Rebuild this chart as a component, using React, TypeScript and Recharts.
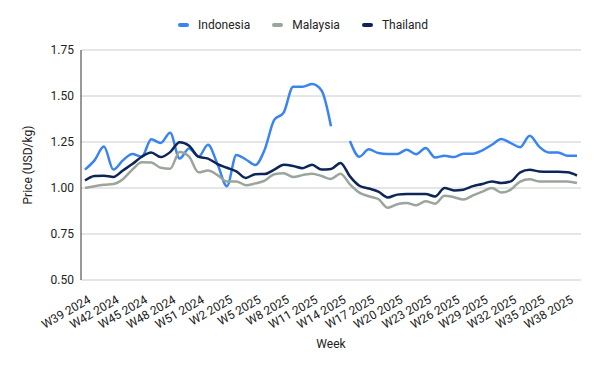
import React from 'react';
import { LineChart, Line, XAxis, YAxis, CartesianGrid } from 'recharts';

const weeks: string[] = [
  'W39 2024', 'W40 2024', 'W41 2024', 'W42 2024', 'W43 2024', 'W44 2024', 'W45 2024', 'W46 2024',
  'W47 2024', 'W48 2024', 'W49 2024', 'W50 2024', 'W51 2024', 'W52 2024',
  'W1 2025', 'W2 2025', 'W3 2025', 'W4 2025', 'W5 2025', 'W6 2025', 'W7 2025', 'W8 2025', 'W9 2025',
  'W10 2025', 'W11 2025', 'W12 2025', 'W13 2025', 'W14 2025', 'W15 2025', 'W16 2025', 'W17 2025',
  'W18 2025', 'W19 2025', 'W20 2025', 'W21 2025', 'W22 2025', 'W23 2025', 'W24 2025', 'W25 2025',
  'W26 2025', 'W27 2025', 'W28 2025', 'W29 2025', 'W30 2025', 'W31 2025', 'W32 2025', 'W33 2025',
  'W34 2025', 'W35 2025', 'W36 2025', 'W37 2025', 'W38 2025', 'W39 2025',
];

const indonesia: (number | null)[] = [
  1.10, 1.15, 1.225, 1.10, 1.15, 1.185, 1.17, 1.265, 1.245, 1.30,
  1.16, 1.215, 1.17, 1.235, 1.13, 1.01, 1.18, 1.155, 1.125, 1.21,
  1.37, 1.41, 1.55, 1.55, 1.565, 1.53, 1.335, null, 1.255, 1.17,
  1.21, 1.19, 1.185, 1.185, 1.208, 1.184, 1.217, 1.166, 1.175, 1.168,
  1.186, 1.186, 1.205, 1.235, 1.266, 1.244, 1.222, 1.284, 1.225, 1.193,
  1.193, 1.175, 1.175,
];

const malaysia: number[] = [
  1.00, 1.01, 1.018, 1.022, 1.048, 1.10, 1.14, 1.139, 1.11, 1.105,
  1.195, 1.17, 1.085, 1.095, 1.07, 1.036, 1.036, 1.015, 1.025, 1.04,
  1.075, 1.08, 1.06, 1.07, 1.078, 1.065, 1.049, 1.078, 1.02, 0.975,
  0.955, 0.94, 0.892, 0.912, 0.918, 0.906, 0.928, 0.915, 0.958, 0.95,
  0.937, 0.96, 0.98, 1.00, 0.976, 0.991, 1.035, 1.047, 1.036, 1.036,
  1.036, 1.036, 1.027,
];

const thailand: number[] = [
  1.041, 1.065, 1.067, 1.06, 1.095, 1.13, 1.17, 1.193, 1.168, 1.195,
  1.249, 1.23, 1.17, 1.16, 1.13, 1.11, 1.09, 1.055, 1.075, 1.076,
  1.10, 1.126, 1.12, 1.108, 1.126, 1.10, 1.103, 1.136, 1.063, 1.012,
  0.997, 0.98, 0.949, 0.964, 0.967, 0.967, 0.967, 0.954, 1.00, 0.987,
  0.991, 1.01, 1.022, 1.036, 1.027, 1.036, 1.085, 1.099, 1.09, 1.088,
  1.088, 1.085, 1.068,
];

const yTicks: number[] = [0.5, 0.75, 1.0, 1.25, 1.5, 1.75];

const seriesNames = ['Indonesia', 'Malaysia', 'Thailand'];
const seriesColors = ['#3a84f0', '#9aa59c', '#0d2559'];

const data = weeks.map((w, i) => ({
  week: w,
  Indonesia: indonesia[i],
  Malaysia: malaysia[i],
  Thailand: thailand[i],
}));

const FONT = 'Roboto, Arial, sans-serif';

const XTick = (props: any) => {
  const { x, y, payload } = props;
  const tx = x + 6.5;
  const ty = y + 14;
  return (
    <text
      x={tx}
      y={ty}
      transform={`rotate(-30, ${tx}, ${ty})`}
      textAnchor="end"
      fontSize={12}
      fontFamily={FONT}
      fill="#222"
    >
      {payload.value}
    </text>
  );
};

const YLabel = (props: any) => {
  const vb = props.viewBox || { x: 0, y: 50, width: 81, height: 230 };
  const cx = 28;
  const cy = vb.y + vb.height / 2;
  return (
    <text
      x={cx}
      y={cy}
      transform={`rotate(-90, ${cx}, ${cy})`}
      textAnchor="middle"
      dominantBaseline="central"
      fontSize={12}
      fontFamily={FONT}
      fill="#222"
    >
      Price (USD/kg)
    </text>
  );
};

const XLabel = (props: any) => {
  const vb = props.viewBox || { x: 81, y: 280, width: 500, height: 91 };
  return (
    <text
      x={vb.x + vb.width / 2}
      y={344}
      textAnchor="middle"
      dominantBaseline="central"
      fontSize={12}
      fontFamily={FONT}
      fill="#222"
    >
      Week
    </text>
  );
};

export default function App() {
  return (
    <div style={{ position: 'absolute', left: 0, top: 0, width: 600, height: 371, background: '#fff' }}>
      <div
        style={{
          position: 'absolute',
          top: 18,
          left: 0,
          width: 600,
          display: 'flex',
          justifyContent: 'center',
          fontFamily: FONT,
          fontSize: 12,
          color: '#222',
          paddingLeft: 6,
          boxSizing: 'border-box',
        }}
      >
        {seriesNames.map((n, i) => (
          <div key={n} style={{ display: 'flex', alignItems: 'center', marginRight: i < 2 ? 22 : 0 }}>
            <span
              style={{
                display: 'inline-block',
                width: 11,
                height: 4,
                borderRadius: 2,
                background: seriesColors[i],
                marginRight: 9,
              }}
            />
            <span>{n}</span>
          </div>
        ))}
      </div>
      <LineChart
        width={600}
        height={371}
        data={data}
        margin={{ top: 50, right: 19, bottom: 0, left: 0 }}
      >
        <CartesianGrid vertical={false} stroke="#cccccc" strokeWidth={1} />
        <XAxis
          dataKey="week"
          interval={2}
          tick={<XTick />}
          tickLine={false}
          axisLine={false}
          height={91}
          padding={{ left: 4, right: 4 }}
          label={<XLabel />}
        />
        <YAxis
          width={81}
          domain={[0.5, 1.75]}
          ticks={yTicks}
          tickFormatter={(v: number) => v.toFixed(2)}
          tickLine={false}
          tickSize={0}
          tickMargin={7}
          axisLine={{ stroke: '#333', strokeWidth: 1 }}
          tick={{ fontSize: 12, fontFamily: FONT, fill: '#222' }}
          label={<YLabel />}
        />
        {seriesNames.map((n, i) => (
          <Line
            key={n}
            type="monotone"
            dataKey={n}
            stroke={seriesColors[i]}
            strokeWidth={2.5}
            dot={false}
            activeDot={false}
            isAnimationActive={false}
            connectNulls={false}
          />
        ))}
      </LineChart>
    </div>
  );
}
